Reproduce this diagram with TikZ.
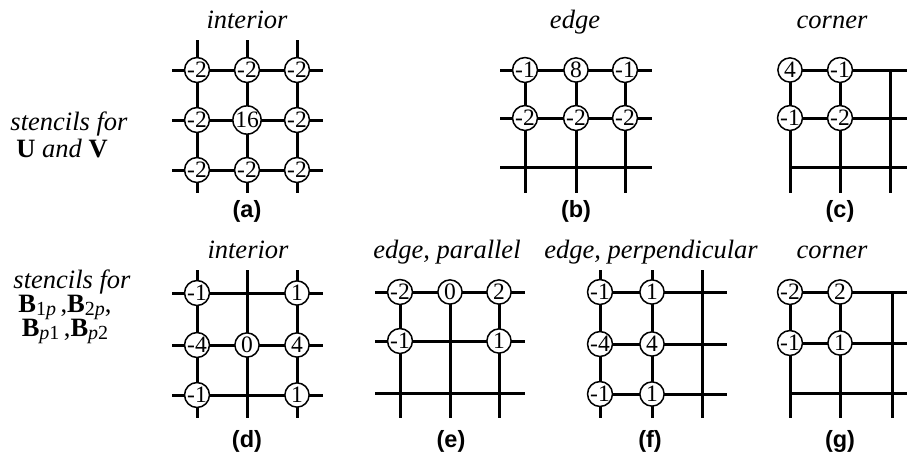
\documentclass[tikz,border=0pt]{standalone}
\usepackage{fontspec}
\setmainfont{Liberation Serif}
\newfontfamily\capfont{Liberation Sans}
\newcommand{\Bidx}[1]{\textbf{B}\raisebox{-0.3ex}{\fontsize{8}{8}\selectfont #1}}
\tikzset{
  gridline/.style={line width=1.2pt},
  val/.style={circle, draw, fill=white, line width=0.6pt, inner sep=0pt,
    minimum size=9.7pt, font=\fontsize{9.4}{9.4}\selectfont},
  title/.style={anchor=base, font=\fontsize{10.6}{11}\selectfont\itshape},
  side/.style={anchor=base, inner sep=1pt, font=\fontsize{10.6}{11}\selectfont},
  tag/.style={font=\fontsize{9.4}{10}\selectfont\capfont\bfseries},
}
\begin{document}
\begin{tikzpicture}[x=0.4pt, y=-0.4pt]
    \useasboundingbox (0,0) rectangle (907,454);
    % row labels
    \node[title] (lu1) at (69,130) {stencils for};
    \node[side] (lu2) at (62,157) {\textbf{U} \textit{and} \textbf{V}};
    \node[title, inner sep=1pt] (lb1) at (72,288) {stencils for};
    \node[side] (lb2) at (65,312) {\Bidx{1\textit{p}}\,,\Bidx{2\textit{p}},};
    \node[side] (lb3) at (65,336) {\Bidx{\textit{p}1}\,,\Bidx{\textit{p}2}};
    % (a) interior
    \node[title] (ta) at (247,28) {interior};
    \draw[gridline] (172,70) -- (323,70) (172,120) -- (323,120) (172,170) -- (323,170)
        (197,40) -- (197,193) (247,40) -- (247,193) (297,40) -- (297,193);
    \node[val] (a11) at (197,70) {-2};
    \node[val] (a12) at (247,70) {-2};
    \node[val] (a13) at (297,70) {-2};
    \node[val] (a21) at (197,120) {-2};
    \node[val] (a22) at (247,120) {16};
    \node[val] (a23) at (297,120) {-2};
    \node[val] (a31) at (197,170) {-2};
    \node[val] (a32) at (247,170) {-2};
    \node[val] (a33) at (297,170) {-2};
    \node[tag] (la) at (247,211) {(a)};
    % (b) edge
    \node[title] (tb) at (575,28) {edge};
    \draw[gridline] (500,70) -- (652,70) (500,118) -- (652,118) (500,167) -- (652,167)
        (525,70) -- (525,193) (576,70) -- (576,193) (625,70) -- (625,193);
    \node[val] (b11) at (525,70) {-1};
    \node[val] (b12) at (576,70) {8};
    \node[val] (b13) at (625,70) {-1};
    \node[val] (b21) at (525,118) {-2};
    \node[val] (b22) at (576,118) {-2};
    \node[val] (b23) at (625,118) {-2};
    \node[tag] (lb) at (576,211) {(b)};
    % (c) corner
    \node[title] (tc) at (832,28) {corner};
    \draw[gridline] (790,70) -- (907,70) (790,118) -- (907,118) (790,167) -- (907,167)
        (790,70) -- (790,193) (840,70) -- (840,193) (890,70) -- (890,193);
    \node[val] (c11) at (790,70) {4};
    \node[val] (c12) at (840,70) {-1};
    \node[val] (c21) at (790,118) {-1};
    \node[val] (c22) at (840,118) {-2};
    \node[tag] (lc) at (840,211) {(c)};
    % (d) interior
    \node[title] (td) at (248,258) {interior};
    \draw[gridline] (172,293) -- (323,293) (172,345) -- (323,345) (172,395) -- (323,395)
        (197,270) -- (197,418) (247,270) -- (247,418) (297,270) -- (297,418);
    \node[val] (d11) at (197,293) {-1};
    \node[val] (d13) at (297,293) {1};
    \node[val] (d21) at (197,345) {-4};
    \node[val] (d22) at (247,345) {0};
    \node[val] (d23) at (297,345) {4};
    \node[val] (d31) at (197,395) {-1};
    \node[val] (d33) at (297,395) {1};
    \node[tag] (ld) at (247,441) {(d)};
    % (e) edge, parallel
    \node[title] (te) at (447,258) {edge, parallel};
    \draw[gridline] (375,292) -- (525,292) (375,341) -- (525,341) (375,393) -- (525,393)
        (400,292) -- (400,418) (450,292) -- (450,418) (499,292) -- (499,418);
    \node[val] (e11) at (400,292) {-2};
    \node[val] (e12) at (450,292) {0};
    \node[val] (e13) at (499,292) {2};
    \node[val] (e21) at (400,341) {-1};
    \node[val] (e23) at (499,341) {1};
    \node[tag] (le) at (451,441) {(e)};
    % (f) edge, perpendicular
    \node[title] (tf) at (651,258) {edge, perpendicular};
    \draw[gridline] (600,292) -- (727,292) (600,344) -- (727,344) (600,394) -- (727,394)
        (600,270) -- (600,418) (652,270) -- (652,418) (702,270) -- (702,418);
    \node[val] (f11) at (600,292) {-1};
    \node[val] (f12) at (652,292) {1};
    \node[val] (f21) at (600,344) {-4};
    \node[val] (f22) at (652,344) {4};
    \node[val] (f31) at (600,394) {-1};
    \node[val] (f32) at (652,394) {1};
    \node[tag] (lf) at (650,441) {(f)};
    % (g) corner
    \node[title] (tg) at (832,258) {corner};
    \draw[gridline] (790,292) -- (907,292) (790,343) -- (907,343) (790,393) -- (907,393)
        (790,292) -- (790,418) (840,292) -- (840,418) (892,292) -- (892,418);
    \node[val] (g11) at (790,292) {-2};
    \node[val] (g12) at (840,292) {2};
    \node[val] (g21) at (790,343) {-1};
    \node[val] (g22) at (840,343) {1};
    \node[tag] (lg) at (840,441) {(g)};
\end{tikzpicture}
\end{document}
